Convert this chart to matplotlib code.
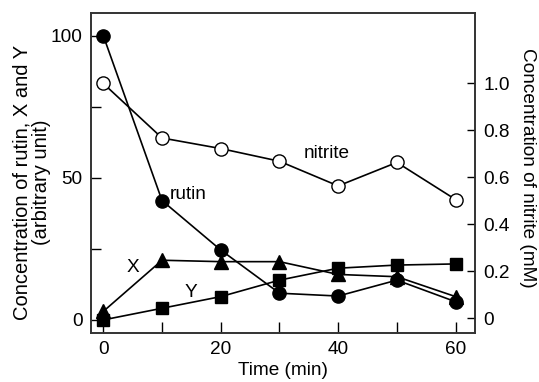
import matplotlib
matplotlib.use("Agg")
import matplotlib.pyplot as plt
from matplotlib.ticker import MultipleLocator

plt.rcParams['font.family'] = ['Liberation Sans', 'DejaVu Sans']

time = [0, 10, 20, 30, 40, 50, 60]
rutin = [100, 42, 24.6, 9.4, 8.4, 14, 6.4]
x_prod = [3, 21, 20.5, 20.5, 16, 15.2, 8.2]
y_prod = [0, 4.1, 8.2, 14, 18.2, 19.3, 19.7]
nitrite = [1.0, 0.768, 0.723, 0.669, 0.564, 0.664, 0.506]

fig = plt.figure(figsize=(5.39, 3.82), dpi=100)
ax = fig.add_axes([0.1688, 0.1283, 0.7124, 0.8377])
ax2 = ax.twinx()

lw = 1.2
ax.plot(time, rutin, '-o', color='black', lw=lw, ms=9.5, zorder=3)
ax.plot(time, x_prod, '-^', color='black', lw=lw, ms=10, zorder=3)
ax.plot(time, y_prod, '-s', color='black', lw=lw, ms=8.5, zorder=3)
ax2.plot(time, nitrite, '-o', color='black', lw=lw, ms=9.5, mfc='white', zorder=3)

ax.set_xlim(-2.1, 63.3)
ax.set_ylim(-4.6, 108)
ax2.set_ylim(-0.062, 1.30)

ax.set_xticks([0, 20, 40, 60])
ax.xaxis.set_minor_locator(MultipleLocator(10))
ax.set_yticks([0, 50, 100])
ax.yaxis.set_minor_locator(MultipleLocator(25))
ax2.set_yticks([0, 0.2, 0.4, 0.6, 0.8, 1.0])
ax2.set_yticklabels(['0', '0.2', '0.4', '0.6', '0.8', '1.0'])

fs = 13.7
ax.tick_params(axis='x', which='both', direction='in', length=8, width=1, labelsize=fs,
               top=False, pad=6)
ax.tick_params(axis='y', which='both', direction='in', length=7, width=1, labelsize=fs, pad=6)
ax2.tick_params(axis='y', direction='in', length=6, width=1, labelsize=fs, pad=6)
for a in (ax, ax2):
    for s in a.spines.values():
        s.set_linewidth(1.2)
        s.set_color('#333333')

ax.set_xlabel('Time (min)', fontsize=fs, labelpad=3)
ax.set_ylabel('Concentration of rutin, X and Y\n(arbitrary unit)', fontsize=14.5,
              linespacing=1.05)
ax.yaxis.set_label_coords(-0.103, 0.47)
ax2.set_ylabel('Concentration of nitrite (mM)', fontsize=fs, rotation=270)
ax2.yaxis.set_label_coords(1.158, 0.515)

ax.text(11.4, 44, 'rutin', fontsize=fs, va='center', ha='left')
ax.text(5.1, 18.6, 'X', fontsize=fs, va='center', ha='center')
ax.text(14.9, 9.5, 'Y', fontsize=fs, va='center', ha='center')
ax2.text(34.1, 0.70, 'nitrite', fontsize=fs, va='center', ha='left')

fig.savefig('out.png', dpi=100)
